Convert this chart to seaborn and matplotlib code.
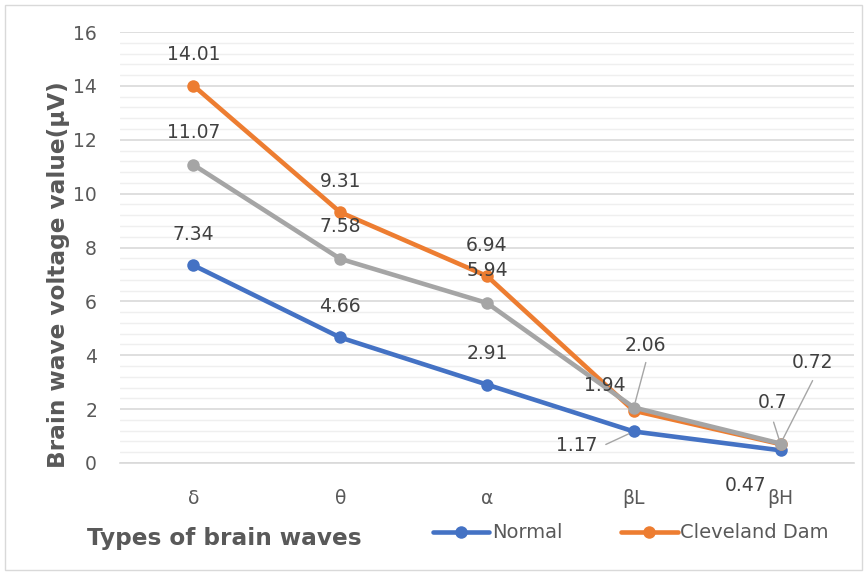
import matplotlib
matplotlib.use("Agg")
import matplotlib.pyplot as plt
import seaborn as sns
import pandas as pd
from matplotlib.patches import Rectangle
from matplotlib.lines import Line2D

categories = ["δ", "θ", "α", "βL", "βH"]
normal = [7.34, 4.66, 2.91, 1.17, 0.47]
cleveland = [14.01, 9.31, 6.94, 1.94, 0.7]
third = [11.07, 7.58, 5.94, 2.06, 0.72]
series_names = ["Normal", "Cleveland Dam", "Series3"]
colors = ["#4472C4", "#ED7D31", "#A5A5A5"]

rows = []
for name, vals in zip(series_names, [normal, cleveland, third]):
    for c, v in zip(categories, vals):
        rows.append({"wave": c, "value": v, "series": name})
df = pd.DataFrame(rows)

sns.set_theme(style="white")
plt.rcParams['font.family'] = ['DejaVu Sans']

fig = plt.figure(figsize=(8.67, 5.75), dpi=100)
ax = fig.add_axes([120/867, 1-463/575, 734/867, 431/575])

sns.lineplot(data=df, x="wave", y="value", hue="series", palette=colors,
             marker="o", markersize=9, markeredgewidth=0, linewidth=3.3,
             sort=False, ax=ax, legend=False)

ax.set_xlim(-0.5, 4.5)
ax.set_ylim(0, 16)
ax.set_yticks(range(0, 17, 2))
minor = [i * 0.4 for i in range(41)]
ax.set_yticks(minor, minor=True)
ax.grid(axis="y", which="major", color="#D9D9D9", linewidth=1.2)
ax.grid(axis="y", which="minor", color="#EFEFEF", linewidth=1.0)
ax.set_axisbelow(True)
for s in ["top", "right", "left"]:
    ax.spines[s].set_visible(False)
ax.spines["bottom"].set_color("#D9D9D9")
ax.spines["bottom"].set_linewidth(1.2)
ax.tick_params(axis="both", which="both", length=0, labelsize=13.5, colors="#595959")
ax.tick_params(axis="y", pad=16.5)
ax.tick_params(axis="x", pad=18.5)

ax.set_ylabel("Brain wave voltage value(μV)", fontsize=16.7, fontweight="bold", color="#595959")
ax.yaxis.set_label_coords(-0.068, 0.436)
ax.set_xlabel("Types of brain waves", fontsize=16.7, fontweight="bold", color="#595959")
ax.xaxis.set_label_coords(0.1417, -0.149)

lab_color = "#404040"
PX = 0.72  # pixels -> points at dpi 100


def lab(x, y, dx, dy, text):
    # dx, dy in pixels, dy positive = upward
    ax.annotate(text, (x, y), xytext=(dx * PX, dy * PX), textcoords="offset points",
                ha="center", va="center", fontsize=13.5, color=lab_color)


def leader(x, y, dx, dy, text, ex, ey):
    lab(x, y, dx, dy, text)
    ax.annotate("", (x, y), xytext=(ex * PX, ey * PX), textcoords="offset points",
                arrowprops=dict(arrowstyle="-", color="#A5A5A5", lw=1.0, shrinkA=0, shrinkB=4))


for i in range(3):
    lab(i, normal[i], 0, 31, f"{normal[i]:g}")
    lab(i, cleveland[i], 0, 31, f"{cleveland[i]:g}")
    lab(i, third[i], 0, 32, f"{third[i]:g}")

leader(3, normal[3], -57, -14, f"{normal[3]:g}", -28, -13)
lab(4, normal[4], -35, -35, f"{normal[4]:g}")
lab(3, cleveland[3], -29, 25, f"{cleveland[3]:g}")
leader(4, cleveland[4], -8, 42, f"{cleveland[4]:g}", -7, 22)
leader(3, third[3], 12, 62, f"{third[3]:g}", 12, 45)
leader(4, third[4], 32, 81, f"{third[4]:g}", 32, 63)

handles = [Line2D([0], [0], color=colors[0], lw=3.3, marker="o", markersize=9, markeredgewidth=0),
           Line2D([0], [0], color=colors[1], lw=3.3, marker="o", markersize=9, markeredgewidth=0)]
leg = fig.legend(handles, series_names[:2], loc="center left", bbox_to_anchor=(433/867, 42/575),
                 frameon=False, fontsize=14, ncol=2, handlelength=2.9, handletextpad=0.15,
                 columnspacing=3.0, labelcolor="#595959", borderaxespad=0, borderpad=0)

fig.patches.append(Rectangle((5/867, 5/575), 857/867, 565/575, transform=fig.transFigure,
                             fill=False, edgecolor="#D9D9D9", linewidth=1.0))

fig.savefig("out.png", dpi=100)
